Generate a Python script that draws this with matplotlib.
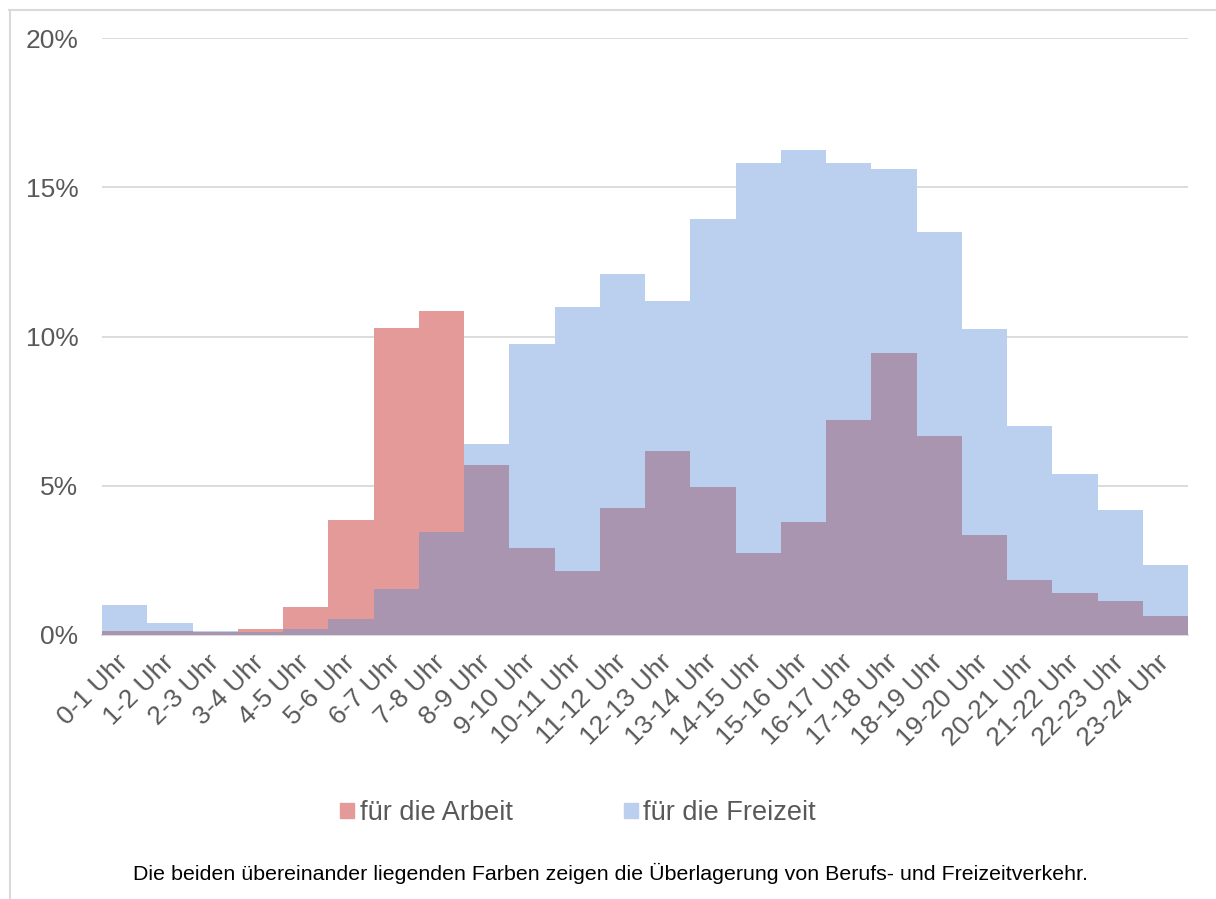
import matplotlib.pyplot as plt
import numpy as np
from matplotlib.lines import Line2D
from matplotlib.patches import Patch
from matplotlib.ticker import FuncFormatter

plt.rcParams['font.family'] = ['Liberation Sans', 'DejaVu Sans']

hours = [f"{h}-{h + 1} Uhr" for h in range(24)]
arbeit = [0.15, 0.12, 0.1, 0.2, 0.95, 3.85, 10.3, 10.85, 5.7, 2.9, 2.15, 4.25,
          6.15, 4.95, 2.75, 3.8, 7.2, 9.45, 6.65, 3.35, 1.85, 1.4, 1.15, 0.65]
freizeit = [1.0, 0.4, 0.15, 0.1, 0.2, 0.55, 1.55, 3.45, 6.4, 9.75, 11.0, 12.1,
            11.2, 13.95, 15.8, 16.25, 15.8, 15.6, 13.5, 10.25, 7.0, 5.4, 4.2, 2.35]

c_red = '#E59A9A'
c_blue = '#BAD0EE'
c_both = '#A995B0'
c_text = '#595959'

fig = plt.figure(figsize=(12.16, 8.99), dpi=100)
ax = fig.add_axes([102 / 1216, 1 - 635 / 899, (1188 - 102) / 1216, (635 - 38) / 899])

x = np.arange(len(hours))
overlap = np.minimum(arbeit, freizeit)
ax.bar(x, freizeit, width=1.0, color=c_blue, zorder=2)
ax.bar(x, arbeit, width=1.0, color=c_red, zorder=2)
ax.bar(x, overlap, width=1.0, color=c_both, zorder=3)

ax.set_xlim(-0.5, len(hours) - 0.5)
ax.set_ylim(0, 20)
ax.set_yticks([0, 5, 10, 15, 20])
ax.yaxis.set_major_formatter(FuncFormatter(lambda v, p: f"{v:.0f}%"))
ax.grid(axis='y', color='#D9D9D9', linewidth=1.3, zorder=0)
ax.set_axisbelow(True)
for s in ['top', 'right', 'left']:
    ax.spines[s].set_visible(False)
ax.spines['bottom'].set_color('#D9D9D9')
ax.spines['bottom'].set_linewidth(1.3)

ax.set_xticks(x)
ax.set_xticklabels(hours, rotation=45, ha='right', va='center',
                   rotation_mode='anchor', fontsize=19, color=c_text)
ax.tick_params(axis='x', length=0, pad=17)
ax.tick_params(axis='y', length=0, labelsize=19, labelcolor=c_text, pad=17)

handles = [Patch(color=c_red, label='für die Arbeit'),
           Patch(color=c_blue, label='für die Freizeit')]
fig.legend(handles=handles, loc='center', bbox_to_anchor=(578 / 1216, 1 - 813 / 899),
           ncol=2, frameon=False, fontsize=19.5, labelcolor=c_text,
           handlelength=0.52, handleheight=0.52, handletextpad=0.2, columnspacing=4.1,
           borderpad=0, borderaxespad=0)

fig.text(610 / 1216, 1 - 873 / 899,
         'Die beiden übereinander liegenden Farben zeigen die Überlagerung von Berufs- und Freizeitverkehr.',
         ha='center', va='center', fontsize=15.4, color='black')

# frame lines top and left
fig.add_artist(Line2D([9 / 1216, 1], [1 - 9.5 / 899, 1 - 9.5 / 899], color='#D9D9D9', lw=1.5))
fig.add_artist(Line2D([9.5 / 1216, 9.5 / 1216], [0, 1 - 9.5 / 899], color='#D9D9D9', lw=1.5))

fig.savefig('out.png', dpi=100)
